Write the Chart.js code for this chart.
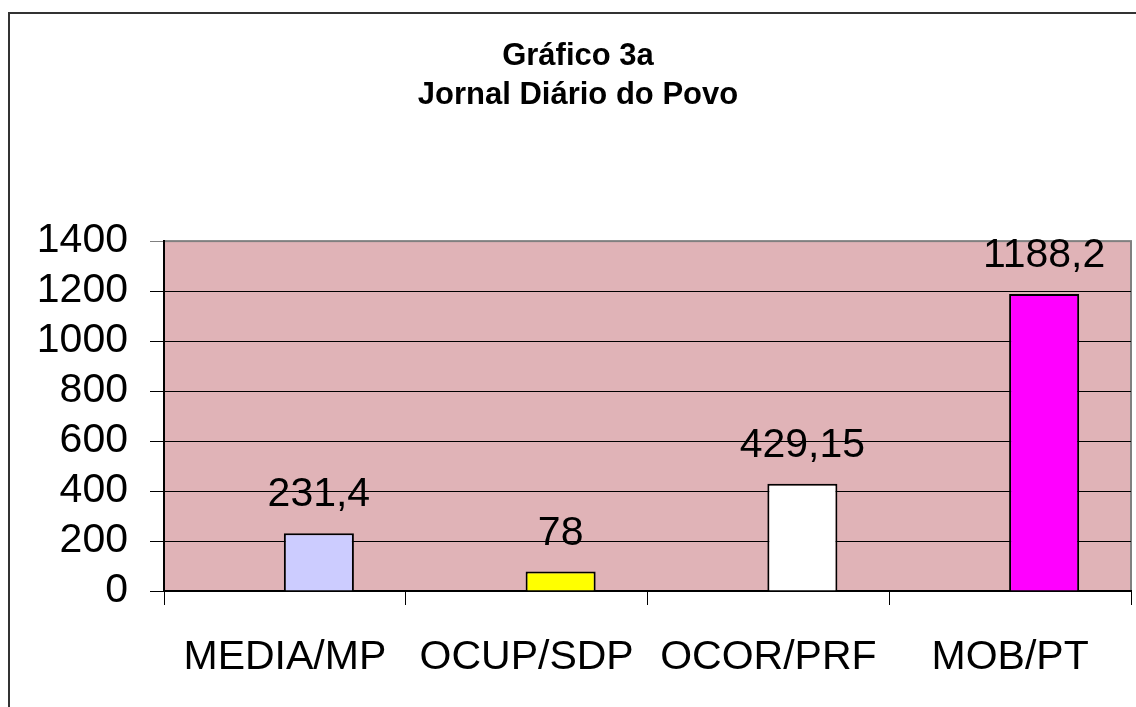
<!DOCTYPE html>
<html lang="pt">
<head>
    <meta charset="UTF-8">
    <title>Gráfico 3a - Jornal Diário do Povo</title>
    <script src="https://cdn.jsdelivr.net/npm/chart.js"></script>
    <style>
        body { margin: 0; padding: 0; background: #ffffff; }
        #wrap { width: 1136px; height: 707px; }
    </style>
</head>
<body>
    <div id="wrap">
        <canvas id="grafico" width="1136" height="707"></canvas>
    </div>

    <script>
        // Dados do gráfico
        const categorias = ['MEDIA/MP', 'OCUP/SDP', 'OCOR/PRF', 'MOB/PT'];
        const valores = [231.4, 78, 429.15, 1188.2];
        const vazio = [null, null, null, null]; // série vazia: empurra as barras para a direita, como no original
        const cores = ['#ccccff', '#ffff00', '#ffffff', '#ff00ff'];
        const titulo = ['Gráfico 3a', 'Jornal Diário do Povo'];
        const escalaY = { min: 0, max: 1400, passo: 200 };

        const fonte = "'Liberation Sans', Arial, sans-serif";

        // Fundo rosado da área do gráfico e moldura externa
        const fundoPlugin = {
            id: 'fundo',
            beforeDraw(chart) {
                const { ctx, chartArea } = chart;
                ctx.save();
                ctx.strokeStyle = '#333333';
                ctx.lineWidth = 2;
                ctx.strokeRect(9, 13, 2000, 2000);
                ctx.fillStyle = '#e0b3b7';
                ctx.fillRect(chartArea.left, chartArea.top, chartArea.right - chartArea.left, chartArea.bottom - chartArea.top);
                ctx.strokeStyle = '#808080';
                ctx.lineWidth = 2;
                ctx.strokeRect(chartArea.left, chartArea.top, chartArea.right - chartArea.left, chartArea.bottom - chartArea.top);
                ctx.restore();
            }
        };

        // Rótulos de valor acima das barras (com vírgula decimal)
        const rotulosPlugin = {
            id: 'rotulos',
            afterDatasetsDraw(chart) {
                const { ctx } = chart;
                const meta = chart.getDatasetMeta(1);
                ctx.save();
                ctx.font = '41px ' + fonte;
                ctx.fillStyle = '#000000';
                ctx.textAlign = 'center';
                ctx.textBaseline = 'alphabetic';
                meta.data.forEach((bar, i) => {
                    const texto = String(valores[i]).replace('.', ',');
                    ctx.fillText(texto, bar.x, bar.y - 27);
                });
                ctx.restore();
            }
        };

        const ctx = document.getElementById('grafico').getContext('2d');
        new Chart(ctx, {
            type: 'bar',
            data: {
                labels: categorias,
                datasets: [
                    {
                        data: vazio,
                        barPercentage: 1.03,
                        categoryPercentage: 0.5626
                    },
                    {
                        data: valores,
                        backgroundColor: cores,
                        borderColor: '#000000',
                        borderWidth: 2,
                        barPercentage: 1.03,
                        categoryPercentage: 0.5626
                    }
                ]
            },
            options: {
                responsive: false,
                animation: false,
                layout: {
                    padding: { left: 25, right: 5, top: 0, bottom: 0 }
                },
                scales: {
                    x: {
                        grid: {
                            offset: true,
                            drawOnChartArea: false,
                            tickLength: 14,
                            color: '#000000'
                        },
                        border: { color: '#000000', width: 2 },
                        ticks: {
                            padding: 28,
                            color: '#000000',
                            font: { family: fonte, size: 41 }
                        },
                        afterFit(scale) { scale.height = 116; }
                    },
                    y: {
                        min: escalaY.min,
                        max: escalaY.max,
                        ticks: {
                            stepSize: escalaY.passo,
                            autoSkip: false,
                            padding: 22,
                            color: '#000000',
                            font: { family: fonte, size: 41 },
                            callback: (v) => String(v)
                        },
                        grid: {
                            tickLength: 14,
                            lineWidth: 1,
                            color: (c) => c.tick && c.tick.value === escalaY.max ? '#808080' : '#000000'
                        },
                        border: { color: '#000000', width: 2 },
                        afterFit(scale) { scale.width = 139; }
                    }
                },
                plugins: {
                    legend: { display: false },
                    tooltip: { enabled: false },
                    title: {
                        display: true,
                        text: titulo,
                        color: '#000000',
                        font: { family: fonte, size: 31, weight: 'bold', lineHeight: 1.26 },
                        padding: { top: 37, bottom: 126 }
                    }
                }
            },
            plugins: [fundoPlugin, rotulosPlugin]
        });
    </script>
</body>
</html>
